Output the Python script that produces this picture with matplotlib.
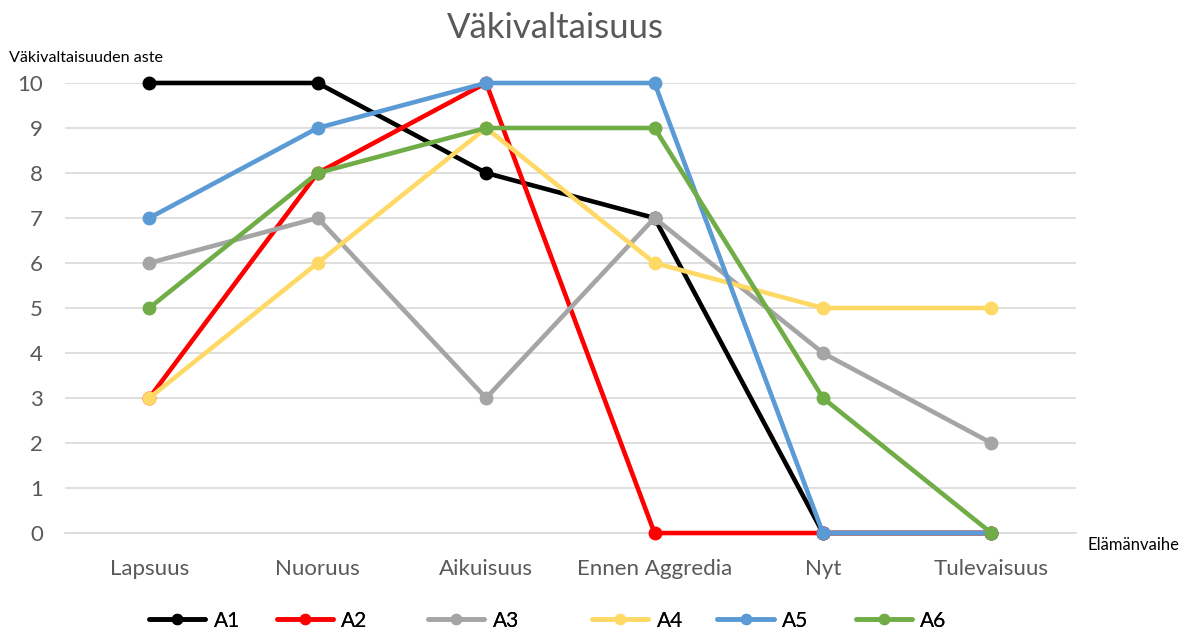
import matplotlib
matplotlib.use('Agg')
from matplotlib import pyplot as plt
import numpy as np

plt.rcParams['font.family'] = ['Lato', 'DejaVu Sans']

stages = ['Lapsuus', 'Nuoruus', 'Aikuisuus', 'Ennen Aggredia', 'Nyt', 'Tulevaisuus']
a1 = [10, 10, 8, 7, 0, 0]
a2 = [3, 8, 10, 0, 0, 0]
a3 = [6, 7, 3, 7, 4, 2]
a4 = [3, 6, 9, 6, 5, 5]
a5 = [7, 9, 10, 10, 0, 0]
a6 = [5, 8, 9, 9, 3, 0]
names = ['A1', 'A2', 'A3', 'A4', 'A5', 'A6']
series = [a1, a2, a3, a4, a5, a6]
colors = ['#000000', '#FF0000', '#A5A5A5', '#FFD966', '#5B9BD5', '#70AD47']
# legend handle x positions (figure fraction), irregular as in the original
leg_x = [0.126, 0.234, 0.362, 0.501, 0.607, 0.724]

def main():
    fig = plt.figure(figsize=(11.82, 6.32), dpi=100)
    ax = fig.add_axes([0.055, 0.1566, 0.855, 0.7121])

    x = np.arange(len(stages))
    lines = []
    for name, vals, c in zip(names, series, colors):
        ln, = ax.plot(x, vals, color=c, lw=3.3, marker='o', ms=9,
                      solid_capstyle='round', clip_on=False, zorder=3, label=name)
        lines.append(ln)

    ax.set_xlim(-0.5, len(stages) - 0.5)
    ax.set_ylim(0, 10)
    ax.set_yticks(range(0, 11))
    ax.set_xticks(x)
    ax.set_xticklabels(stages)
    ax.tick_params(axis='both', length=0, labelsize=16, labelcolor='#595959')
    ax.tick_params(axis='x', pad=19)
    ax.tick_params(axis='y', pad=16)
    ax.grid(axis='y', color='#D9D9D9', lw=1.2)
    ax.set_axisbelow(True)
    for s in ['top', 'right', 'left']:
        ax.spines[s].set_visible(False)
    ax.spines['bottom'].set_color('#D9D9D9')
    ax.spines['bottom'].set_linewidth(1.2)

    fig.text(0.47, 0.956, 'Väkivaltaisuus', ha='center', va='center',
             fontsize=25, color='#595959')
    fig.text(0.008, 0.908, 'Väkivaltaisuuden aste', ha='left', va='center',
             fontsize=11.6, color='#000000')
    fig.text(0.920, 0.138, 'Elämänvaihe', ha='left', va='center',
             fontsize=12, color='#000000')

    for ln, lx in zip(lines, leg_x):
        leg = fig.legend([ln], [ln.get_label()], loc='center left',
                         bbox_to_anchor=(lx, 0.018), frameon=False,
                         fontsize=15, handlelength=2.7, handletextpad=0.4,
                         borderaxespad=0, borderpad=0, markerscale=0.8)
        fig.add_artist(leg)

    plt.savefig('out.png', dpi=100)

if __name__ == '__main__':
    main()
